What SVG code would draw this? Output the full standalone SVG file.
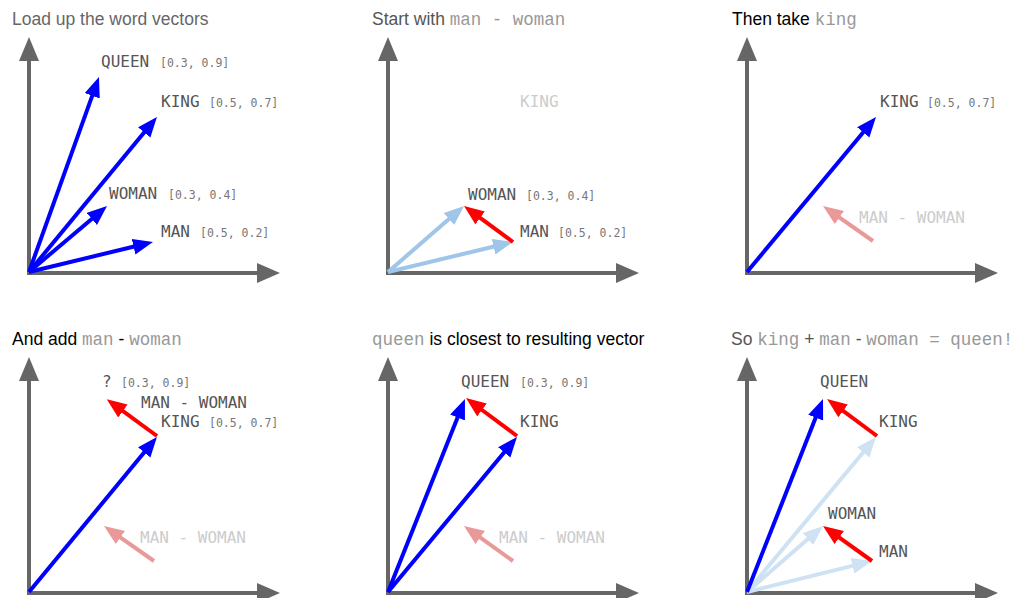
<svg xmlns="http://www.w3.org/2000/svg" width="1020" height="598" viewBox="0 0 1020 598">
<style>
.axis{stroke:#666;stroke-width:4;fill:none}
.axhead{fill:#666}
.v{stroke-width:4;fill:none}
.blue{stroke:#0000ff;marker-end:url(#mBlue)}
.red{stroke:#ff0000;marker-end:url(#mRed)}
.lb{stroke:#9fc5e8;marker-end:url(#mLb)}
.lb2{stroke:#cfe2f3;marker-end:url(#mLb2)}
.fr{stroke:#ea9999;marker-end:url(#mFr)}
.lbl{font-family:"DejaVu Sans Mono",monospace;font-size:16px;fill:#555}
.faint{fill:#ccc}
.crd{font-family:"DejaVu Sans Mono",monospace;font-size:11.5px;fill:#777}
.ttl{font-family:"Liberation Sans",Arial,sans-serif;font-size:17.5px}
.mono{font-family:"Liberation Mono","Courier New",monospace;fill:#999}
</style>
<defs>
<marker id="mBlue" markerUnits="userSpaceOnUse" markerWidth="22" markerHeight="18" refX="5" refY="8" orient="auto"><path d="M0,0 L20,8 L0,16 z" fill="#0000ff"/></marker>
<marker id="mRed" markerUnits="userSpaceOnUse" markerWidth="22" markerHeight="18" refX="5" refY="8" orient="auto"><path d="M0,0 L20,8 L0,16 z" fill="#ff0000"/></marker>
<marker id="mLb" markerUnits="userSpaceOnUse" markerWidth="22" markerHeight="18" refX="5" refY="8" orient="auto"><path d="M0,0 L20,8 L0,16 z" fill="#9fc5e8"/></marker>
<marker id="mLb2" markerUnits="userSpaceOnUse" markerWidth="22" markerHeight="18" refX="5" refY="8" orient="auto"><path d="M0,0 L20,8 L0,16 z" fill="#cfe2f3"/></marker>
<marker id="mFr" markerUnits="userSpaceOnUse" markerWidth="22" markerHeight="18" refX="5" refY="8" orient="auto"><path d="M0,0 L20,8 L0,16 z" fill="#ea9999"/></marker>
<g id="axes">
<path class="axis" d="M0,0 V-212 M-2,0 H230"/>
<path class="axhead" d="M-10,-212 L0,-236 L10,-212 z M228,-10 L251,0 L228,10 z"/>
</g>
</defs>

<g id="titles">
<text class="ttl" x="12" y="25" fill="#666">Load up the word vectors</text>
<text class="ttl" x="372" y="25" fill="#555">Start with <tspan class="mono">man - woman</tspan></text>
<text class="ttl" x="732" y="25" fill="#000">Then take <tspan class="mono">king</tspan></text>
<text class="ttl" x="12" y="345" fill="#000">And add <tspan class="mono">man</tspan> - <tspan class="mono">woman</tspan></text>
<text class="ttl" x="372" y="345" fill="#000"><tspan class="mono">queen</tspan> is closest to resulting vector</text>
<text class="ttl" x="731" y="345" fill="#555">So <tspan class="mono">king</tspan> + <tspan class="mono">man</tspan> - <tspan class="mono">woman = queen!</tspan></text>
</g>

<g id="axes-all">
<use href="#axes" x="29" y="273"/>
<use href="#axes" x="388" y="273"/>
<use href="#axes" x="747" y="273"/>
<use href="#axes" x="29" y="593"/>
<use href="#axes" x="388" y="593"/>
<use href="#axes" x="747" y="593"/>
</g>

<g id="connectors">
<!-- panel 1 -->
<line class="v blue" x1="29" y1="272" x2="93.9" y2="91.1"/>
<line class="v blue" x1="29" y1="272" x2="147.4" y2="128.6"/>
<line class="v blue" x1="29" y1="272" x2="95.6" y2="215.7"/>
<line class="v blue" x1="29" y1="272" x2="138.4" y2="245.5"/>
<!-- panel 2 -->
<line class="v lb" x1="388" y1="272" x2="452.7" y2="215.8"/>
<line class="v lb" x1="388" y1="272" x2="498.4" y2="245.5"/>
<line class="v red" x1="513" y1="242" x2="476.1" y2="214.9"/>
<!-- panel 3 -->
<line class="v blue" x1="747" y1="272" x2="866.4" y2="128.5"/>
<line class="v fr" x1="873" y1="241" x2="835.3" y2="214.6"/>
<!-- panel 4 -->
<line class="v blue" x1="29" y1="592" x2="147.4" y2="448.6"/>
<line class="v red" x1="157" y1="436" x2="118.9" y2="408.1"/>
<line class="v fr" x1="154" y1="561" x2="116.3" y2="534.6"/>
<!-- panel 5 -->
<line class="v blue" x1="388" y1="592" x2="459.4" y2="412.9"/>
<line class="v blue" x1="388" y1="592" x2="507.4" y2="448.5"/>
<line class="v red" x1="517" y1="436" x2="478.0" y2="407.0"/>
<line class="v fr" x1="513" y1="561" x2="476.2" y2="534.7"/>
<!-- panel 6 -->
<line class="v lb2" x1="747" y1="592" x2="866.4" y2="448.5"/>
<line class="v lb2" x1="747" y1="592" x2="811.7" y2="535.8"/>
<line class="v lb2" x1="747" y1="592" x2="857.4" y2="564.6"/>
<line class="v red" x1="877" y1="436" x2="839.1" y2="407.9"/>
<line class="v red" x1="872" y1="561" x2="835.2" y2="534.7"/>
<line class="v blue" x1="747" y1="592" x2="817.5" y2="413.0"/>
</g>

<g id="panel1">
<text class="lbl" x="101" y="67">QUEEN</text><text class="crd" x="160" y="67">[0.3, 0.9]</text>
<text class="lbl" x="161" y="107">KING</text><text class="crd" x="209" y="107">[0.5, 0.7]</text>
<text class="lbl" x="109" y="199">WOMAN</text><text class="crd" x="168" y="199">[0.3, 0.4]</text>
<text class="lbl" x="161" y="237">MAN</text><text class="crd" x="200" y="237">[0.5, 0.2]</text>
</g>
<g id="panel2">
<text class="lbl faint" x="520" y="107">KING</text>
<text class="lbl" x="468" y="200">WOMAN</text><text class="crd" x="526" y="200">[0.3, 0.4]</text>
<text class="lbl" x="520" y="237">MAN</text><text class="crd" x="558" y="237">[0.5, 0.2]</text>
</g>
<g id="panel3">
<text class="lbl" x="880" y="107">KING</text><text class="crd" x="927" y="107">[0.5, 0.7]</text>
<text class="lbl faint" x="859" y="223">MAN - WOMAN</text>
</g>
<g id="panel4">
<text class="lbl" x="102" y="387">?</text><text class="crd" x="121" y="387">[0.3, 0.9]</text>
<text class="lbl" x="141" y="408">MAN - WOMAN</text>
<text class="lbl" x="161" y="427">KING</text><text class="crd" x="209" y="427">[0.5, 0.7]</text>
<text class="lbl faint" x="140" y="543">MAN - WOMAN</text>
</g>
<g id="panel5">
<text class="lbl" x="461" y="387">QUEEN</text><text class="crd" x="520" y="387">[0.3, 0.9]</text>
<text class="lbl" x="520" y="427">KING</text>
<text class="lbl faint" x="499" y="543">MAN - WOMAN</text>
</g>
<g id="panel6">
<text class="lbl" x="820" y="387">QUEEN</text>
<text class="lbl" x="879" y="427">KING</text>
<text class="lbl" x="828" y="519">WOMAN</text>
<text class="lbl" x="879" y="557">MAN</text>
</g>
</svg>
